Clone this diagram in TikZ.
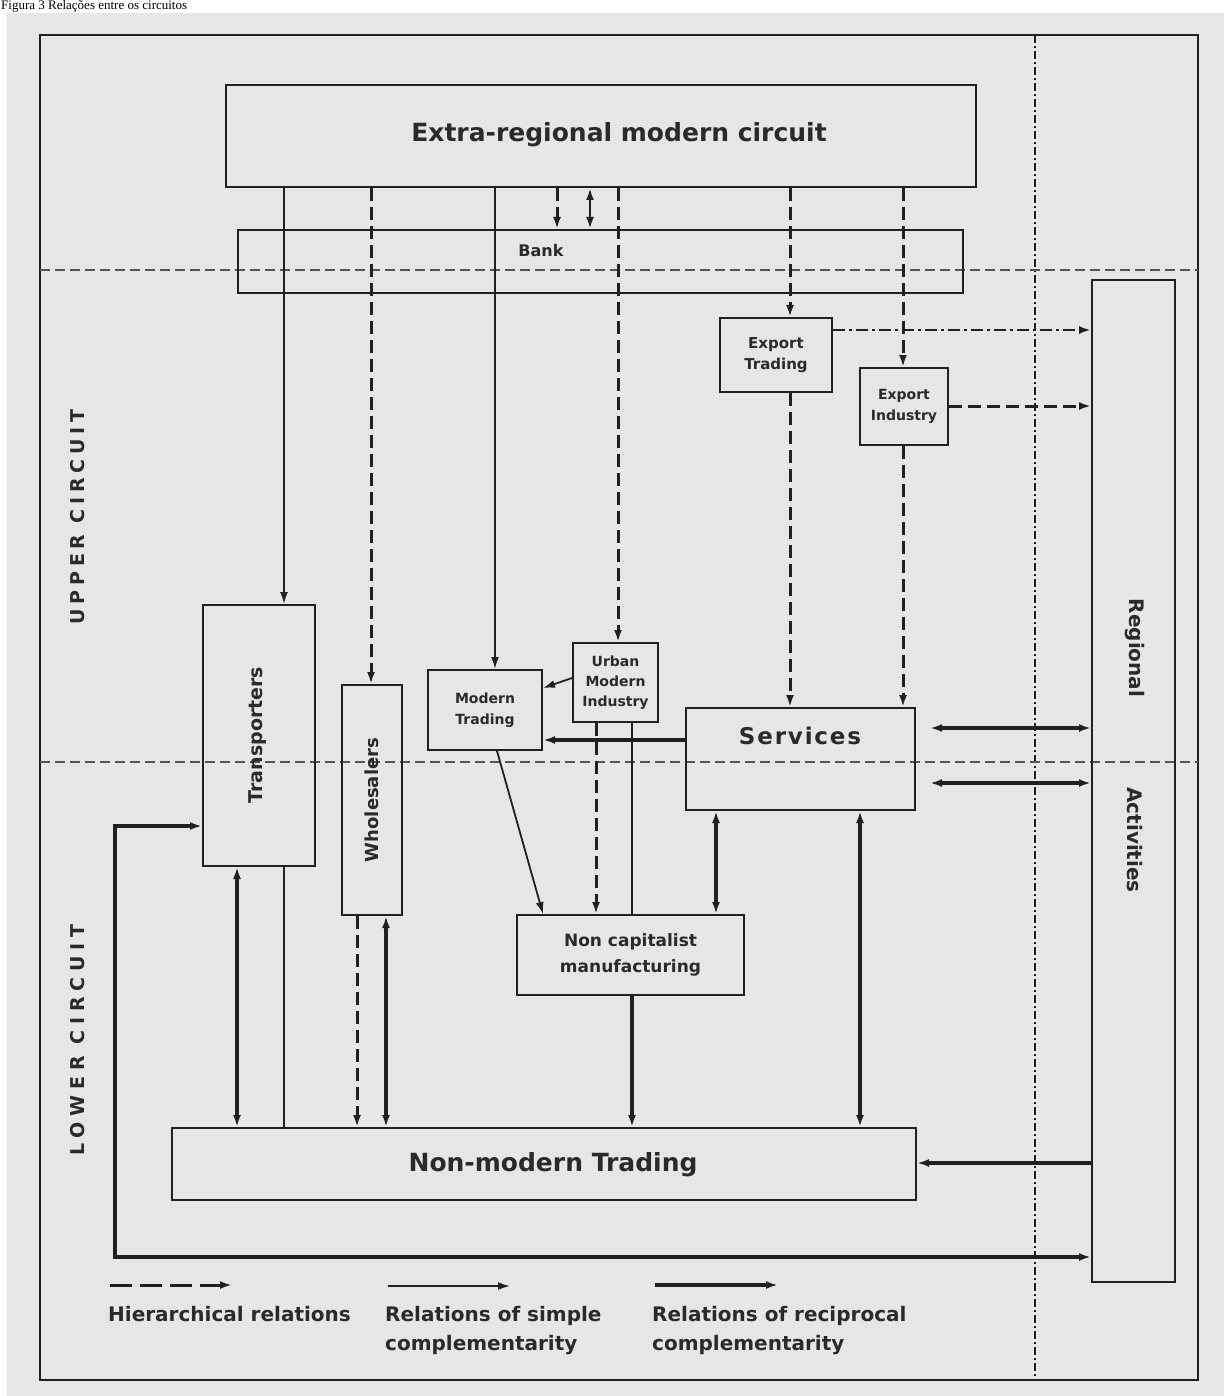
\documentclass[tikz,border=0pt]{standalone}
\usepackage{fontspec}
\setmainfont{DejaVu Sans}
\newfontfamily\capfont{Liberation Serif}
\usetikzlibrary{arrows.meta}
\definecolor{bg}{HTML}{E6E6E6}
\definecolor{ink}{HTML}{202020}
\definecolor{txt}{HTML}{2A2A2A}
\definecolor{sepc}{HTML}{555555}
\newcommand\ff[2]{\bfseries\fontsize{#1}{#2}\selectfont}
\begin{document}
\begin{tikzpicture}[x=1pt,y=-1pt,
  >={Latex[length=12pt,width=8pt]},
  box/.style={draw=ink,line width=2pt,rectangle,inner sep=0pt,align=center,text=txt},
  lbl/.style={inner sep=0pt,text=txt,align=center},
  thinl/.style={draw=ink,line width=1.8pt},
  thickl/.style={draw=ink,line width=3.4pt},
  medl/.style={draw=ink,line width=2.4pt},
  hier/.style={draw=ink,line width=3pt,dash pattern=on 13pt off 6pt},
  dashdotl/.style={draw=ink,line width=2.6pt,dash pattern=on 12pt off 4pt on 3pt off 4pt},
  sepline/.style={draw=sepc,line width=1.4pt,dash pattern=on 10pt off 5pt},
  vsepline/.style={draw=ink,line width=2.4pt,dash pattern=on 8pt off 3pt on 2pt off 3pt}]
\useasboundingbox (0,0) rectangle (1224,1396);
\fill[white] (0,0) rectangle (1224,1396);
\fill[bg] (7,13) rectangle (1224,1396);
\node[anchor=base west,inner sep=0pt,font=\capfont\fontsize{13}{15}\selectfont] (caption) at (1,10) {Figura 3 Relações entre os circuitos};

% frame and separators
\draw[ink,line width=2.4pt] (40,35) rectangle (1198,1380);
\draw[vsepline] (1035,35) -- (1035,1380);
\draw[sepline] (40,270) -- (1198,270);
\draw[sepline] (40,762) -- (1198,762);

% boxes
\node[box,minimum width=750pt,minimum height=102pt] (extra) at (601,136) {};
\node[lbl,font=\ff{25}{28}] (extratxt) at (619,135) {Extra-regional modern circuit};
\node[box,minimum width=725pt,minimum height=63pt] (bank) at (600.5,261.5) {};
\node[lbl,font=\ff{16}{18}] (banktxt) at (541,251) {Bank};
\node[box,minimum width=112pt,minimum height=74pt,font=\ff{15}{21}] (exptr) at (776,355) {Export\\Trading};
\node[box,minimum width=88pt,minimum height=77pt,font=\ff{14}{21}] (expind) at (904,406.5) {Export\\Industry};
\node[box,minimum width=83pt,minimum height=1002pt] (regional) at (1133.5,781) {};
\node[lbl,font=\ff{20}{22},rotate=-90] (regtxt) at (1135,648) {Regional};
\node[lbl,font=\ff{20}{22},rotate=-90] (acttxt) at (1135,840) {Activities};
\node[box,minimum width=112pt,minimum height=261pt] (trans) at (259,735.5) {};
\node[lbl,font=\ff{19}{22},rotate=90] (transtxt) at (258,735) {Transporters};
\node[box,minimum width=60pt,minimum height=230pt] (whole) at (372,800) {};
\node[lbl,font=\ff{18}{20},rotate=90] (wholetxt) at (372,800) {Wholesalers};
\node[box,minimum width=114pt,minimum height=80pt,font=\ff{14}{21}] (modtr) at (485,710) {Modern\\Trading};
\node[box,minimum width=85pt,minimum height=79pt,font=\ff{14}{20}] (urban) at (615.5,682.5) {Urban\\Modern\\Industry};
\node[box,minimum width=229pt,minimum height=102pt] (serv) at (800.5,759) {};
\node[lbl,font=\ff{23}{26}\addfontfeature{LetterSpace=8}] (servtxt) at (800,736) {Services};
\node[box,minimum width=227pt,minimum height=80pt,font=\ff{17}{26}] (noncap) at (630.5,955) {Non capitalist\\manufacturing};
\node[box,minimum width=744pt,minimum height=72pt] (nonmod) at (544,1164) {};
\node[lbl,font=\ff{25}{28}] (nonmodtxt) at (553,1165) {Non-modern Trading};

% side labels
\node[lbl,font=\ff{19}{22}\addfontfeature{LetterSpace=25},rotate=90] (uppertxt) at (78,517) {UPPER CIRCUIT};
\node[lbl,font=\ff{19}{22}\addfontfeature{LetterSpace=30},rotate=90] (lowertxt) at (78,1040) {LOWER CIRCUIT};

% x / y guide coordinates
\coordinate (v237) at (237,0);
\coordinate (v284) at (284,0);
\coordinate (v357) at (357,0);
\coordinate (v371) at (371,0);
\coordinate (v386) at (386,0);
\coordinate (v495) at (495,0);
\coordinate (v497) at (497,0);
\coordinate (v543) at (543,0);
\coordinate (v557) at (557,0);
\coordinate (v590) at (590,0);
\coordinate (v596) at (596,0);
\coordinate (v618) at (618,0);
\coordinate (v632) at (632,0);
\coordinate (v716) at (716,0);
\coordinate (v790) at (790,0);
\coordinate (v860) at (860,0);
\coordinate (v903) at (903,0);
\coordinate (h330) at (0,330);
\coordinate (h406) at (0,406);
\coordinate (h678) at (0,678);
\coordinate (h688) at (0,688);
\coordinate (h740) at (0,740);
\coordinate (h1163) at (0,1163);
\coordinate (s1) at (930,728);
\coordinate (s2) at (930,783);
\coordinate (lp1) at (115,1257);
\coordinate (lp2) at (115,826);

% connectors from the extra-regional circuit
\draw[thinl,->] (extra.south -| v284) -- (trans.north -| v284);
\draw[hier,->] (extra.south -| v371) -- (whole.north -| v371);
\draw[thinl,->] (extra.south -| v495) -- (modtr.north -| v495);
\draw[hier,->] (extra.south -| v557) -- (bank.north -| v557);
\draw[medl,<->] (extra.south -| v590) -- (bank.north -| v590);
\draw[hier,->] (extra.south -| v618) -- (urban.north -| v618);
\draw[hier,->] (extra.south -| v790) -- (exptr.north -| v790);
\draw[hier,->] (exptr.south -| v790) -- (serv.north -| v790);
\draw[hier,->] (extra.south -| v903) -- (expind.north -| v903);
\draw[hier,->] (expind.south -| v903) -- (serv.north -| v903);
\draw[dashdotl,->] (exptr.east |- h330) -- (regional.west |- h330);
\draw[hier,->] (expind.east |- h406) -- (regional.west |- h406);

% middle connectors
\draw[thinl,->] (urban.west |- h678) -- (modtr.east |- h688);
\draw[thickl,->] (serv.west |- h740) -- (modtr.east |- h740);
\draw[thinl,->] (modtr.south -| v497) -- (noncap.north -| v543);
\draw[hier,->] (urban.south -| v596) -- (noncap.north -| v596);
\draw[thinl] (urban.south -| v632) -- (noncap.north -| v632);
\draw[thickl,<->] (serv.south -| v716) -- (noncap.north -| v716);
\draw[thickl,<->] (serv.south -| v860) -- (nonmod.north -| v860);
\draw[thickl,->] (noncap.south -| v632) -- (nonmod.north -| v632);
\draw[thickl,<->] (trans.south -| v237) -- (nonmod.north -| v237);
\draw[thinl] (trans.south -| v284) -- (nonmod.north -| v284);
\draw[hier,->] (whole.south -| v357) -- (nonmod.north -| v357);
\draw[thickl,<->] (whole.south -| v386) -- (nonmod.north -| v386);
\draw[thickl,<->] (s1) -- (regional.west |- s1);
\draw[thickl,<->] (s2) -- (regional.west |- s2);
\draw[thickl,->] (regional.west |- h1163) -- (nonmod.east |- h1163);
\draw[thickl,<->] (regional.west |- lp1) -- (lp1) -- (lp2) -- (trans.west |- lp2);

% legend
\coordinate (la1) at (110,1285);
\coordinate (la2) at (232,1285);
\coordinate (lb1) at (388,1286);
\coordinate (lb2) at (510,1286);
\coordinate (lc1) at (655,1285);
\coordinate (lc2) at (778,1285);
\draw[hier,dash pattern=on 22pt off 8pt,->] (la1) -- (la2);
\draw[thinl,->] (lb1) -- (lb2);
\draw[thickl,->] (lc1) -- (lc2);
\node[lbl,anchor=north west,align=left,font=\ff{20}{29}] (lega) at (108,1306) {Hierarchical relations};
\node[lbl,anchor=north west,align=left,font=\ff{20}{29}] (legb) at (385,1306) {Relations of simple\\complementarity};
\node[lbl,anchor=north west,align=left,font=\ff{20}{29}] (legc) at (652,1306) {Relations of reciprocal\\complementarity};
\end{tikzpicture}
\end{document}
